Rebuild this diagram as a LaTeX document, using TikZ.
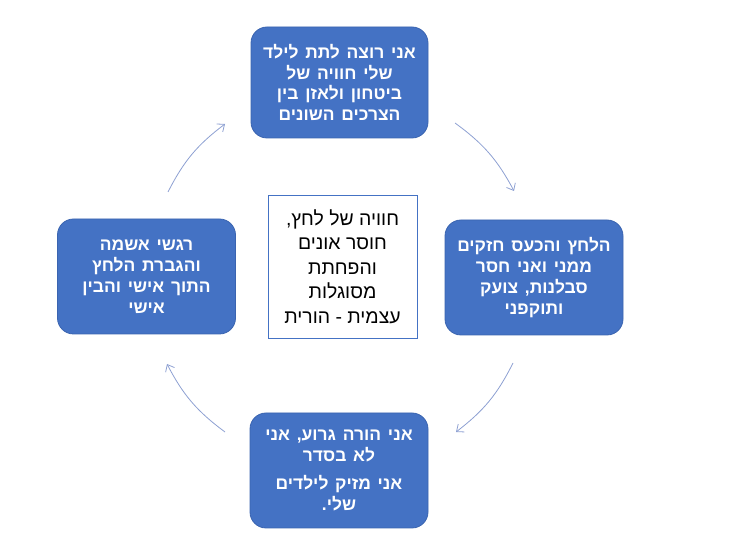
\documentclass[tikz,border=0pt]{standalone}
\usepackage{fontspec}
\setmainfont{Liberation Sans}
\newfontfamily\hebfont[Script=Hebrew]{Liberation Sans}
\newfontfamily\hebbold[Script=Hebrew,WordSpace=1.4]{Liberation Sans Bold}
\TeXXeTstate=1
\usetikzlibrary{arrows.meta}
\definecolor{boxblue}{HTML}{4472C4}
\definecolor{boxedge}{HTML}{3A64B0}
\definecolor{arrowc}{HTML}{8DA0D2}
\tikzset{
  bluebox/.style={rectangle, rounded corners=16bp, fill=boxblue, draw=boxedge, line width=0.8bp,
    text=white, font=\hebbold\fontsize{17.5}{21}\selectfont, align=center, inner sep=0pt},
  centerbox/.style={rectangle, fill=white, draw=boxblue, line width=0.8bp,
    text=black, font=\hebfont\fontsize{19.5}{24.5}\selectfont, align=center, inner sep=0pt},
  cyclearrow/.style={draw=arrowc, line width=0.8bp, -{Straight Barb[length=6bp,width=10bp]}}
}
\begin{document}
\begin{tikzpicture}[x=1bp,y=1bp]
\useasboundingbox (0,0) rectangle (733,553);
\node[bluebox, minimum width=177bp, minimum height=111bp] (top) at (339.5,470.5)
  {\beginR אני רוצה לתת לילד\endR\\ \beginR שלי חוויה של\endR\\ \beginR ביטחון ולאזן בין\endR\\ \beginR הצרכים השונים\endR};
\node[bluebox, minimum width=178bp, minimum height=115bp] (right) at (534,275.5)
  {\beginR הלחץ והכעס חזקים\endR\\ \beginR ממני ואני חסר\endR\\ \beginR סבלנות, צועק\endR\\ \beginR ותוקפני\endR};
\node[bluebox, minimum width=178bp, minimum height=115bp] (bottom) at (339,82.5)
  {\beginR אני הורה גרוע, אני\endR\\ \beginR לא בסדר\endR\\[8bp] \beginR אני מזיק לילדים\endR\\ \beginR שלי.\endR};
\node[bluebox, minimum width=178bp, minimum height=115bp] (left) at (146.5,276.5)
  {\beginR רגשי אשמה\endR\\ \beginR והגברת הלחץ\endR\\ \beginR התוך אישי והבין\endR\\ \beginR אישי\endR};
\node[centerbox, minimum width=149bp, minimum height=143bp] (center) at (342.5,286.5)
  {\beginR חוויה של לחץ,\endR\\ \beginR חוסר אונים\endR\\ \beginR והפחתת\endR\\ \beginR מסוגלות\endR\\ \beginR עצמית - הורית\endR};
\coordinate (a1s) at (455,430);
\coordinate (a1e) at (514,362);
\coordinate (a2s) at (513,190);
\coordinate (a2e) at (456,121);
\coordinate (a3s) at (225,121);
\coordinate (a3e) at (167,189);
\coordinate (a4s) at (168,361);
\coordinate (a4e) at (225,429);
\draw[cyclearrow] (a1s) to[bend left=13] (a1e);
\draw[cyclearrow] (a2s) to[bend left=13] (a2e);
\draw[cyclearrow] (a3s) to[bend left=13] (a3e);
\draw[cyclearrow] (a4s) to[bend left=13] (a4e);
\end{tikzpicture}
\end{document}
